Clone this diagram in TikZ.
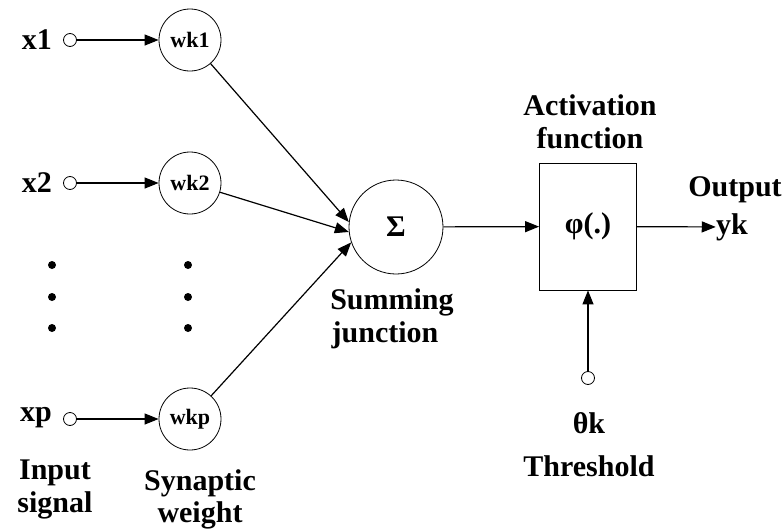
\documentclass[tikz,border=0pt]{standalone}
\usepackage{fontspec}
\setmainfont{Liberation Serif}
\usetikzlibrary{arrows.meta,positioning}

\begin{document}
\begin{tikzpicture}[
  x=0.5pt, y=-0.5pt,
  >={Triangle[length=7pt,width=5.5pt]},
  label/.style={font=\bfseries\fontsize{15}{17}\selectfont, inner sep=0pt},
  weight/.style={circle, draw, minimum size=31pt, inner sep=0pt, font=\bfseries\fontsize{11}{12}\selectfont},
  port/.style={circle, draw, minimum size=6.5pt, inner sep=0pt},
  dot/.style={circle, fill, minimum size=4pt, inner sep=0pt},
  line/.style={->, line width=0.6pt}
]
\useasboundingbox (0,0) rectangle (784,531);

% Inputs
\node[label] (x1) at (37,40) {x1};
\node[port] (in1) at (70,40) {};
\node[label] (x2) at (37,183) {x2};
\node[port] (in2) at (70,183) {};
\node[label] (xp) at (36,418) {xp};
\node[port] (inp) at (70,419) {};

% Synaptic weights
\node[weight] (w1) at (190,40) {wk1};
\node[weight] (w2) at (190,183) {wk2};
\node[weight] (wp) at (190,419) {wkp};

% Dots
\foreach \y in {265,297,328} {
  \node[dot] (dl\y) at (52,\y) {};
  \node[dot] (dr\y) at (188,\y) {};
}

% Summing junction and activation
\node[circle, draw, minimum size=47pt, inner sep=0pt, font=\bfseries\fontsize{15}{17}\selectfont] (sum) at (396,227) {Σ};
\node[draw, minimum width=48.5pt, minimum height=63.5pt, inner sep=0pt, font=\bfseries\fontsize{15}{17}\selectfont] (act) at (588,226.5) {φ(.)};
\node[label] (yk) at (732,227) {yk};
\node[port] (theta) at (588,378) {};

% Labels
\node[label] (actl1) at (590,105) {Activation};
\node[label] (actl2) at (590,138) {function};
\node[label] (outl) at (735,190) {Output};
\node[label] (sumj1) at (392,302) {Summing};
\node[label] (sumj2) at (385,335) {junction};
\node[label] (thk) at (589,423) {θk};
\node[label] (thr) at (589,466) {Threshold};
\node[label] (insig1) at (55,473) {Input};
\node[label] (insig2) at (55,505) {signal};
\node[label] (syn1) at (200,483) {Synaptic};
\node[label] (syn2) at (200,515) {weight};

% Arrows
\draw[line] (in1) -- (w1);
\draw[line] (in2) -- (w2);
\draw[line] (inp) -- (wp);
\draw[line] (w1) -- (sum.174);
\draw[line] (w2) -- (sum.186);
\draw[line] (wp) -- (sum.199);
\draw[line] (sum) -- (act);
\draw[line] (act) -- (yk);
\draw[line] (theta) -- (act);
\end{tikzpicture}
\end{document}
